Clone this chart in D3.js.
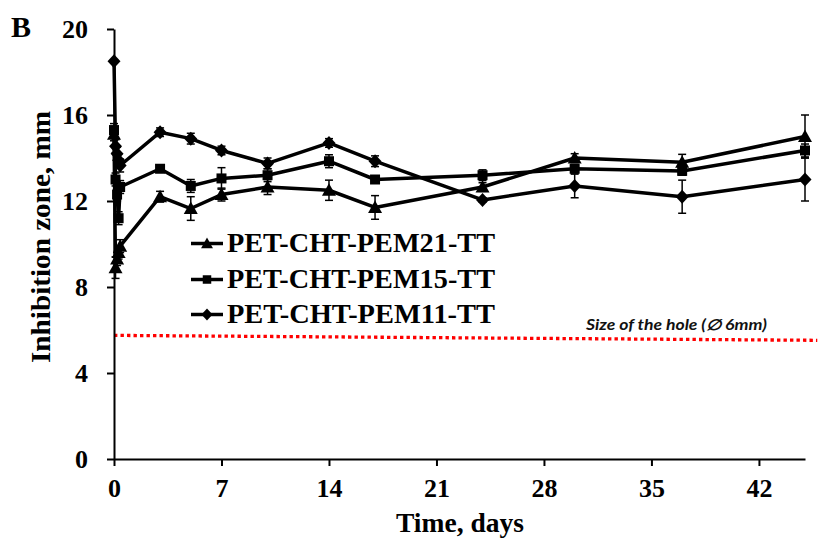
<!DOCTYPE html>
<html>
<head>
<meta charset="utf-8">
<script src="https://cdn.jsdelivr.net/npm/d3@7"></script>
<style>
  html, body { margin: 0; padding: 0; background: #fff; }
  svg { display: block; }
</style>
</head>
<body>
<div id="chart"></div>
<script>
// ---- Data ----
const days = [0, 0.1, 0.2, 0.3, 0.4, 3, 5, 7, 10, 14, 17, 24, 30, 37, 45];
const pem21 = [15.1, 8.9, 9.3, 9.6, 9.9, 12.2, 11.65, 12.3, 12.65, 12.5, 11.7, 12.65, 14.0, 13.8, 15.0];
const pem21Err = [0.3, 0.5, 0.3, 0.3, 0.3, 0.25, 0.55, 0.3, 0.35, 0.47, 0.55, 0.2, 0.2, 0.37, 1.0];
const pem15 = [15.3, 13.0, 12.3, 11.2, 12.65, 13.5, 12.7, 13.05, 13.2, 13.85, 13.0, 13.2, 13.5, 13.4, 14.35];
const pem15Err = [0.3, 0.3, 0.3, 0.3, 0.3, 0.15, 0.3, 0.5, 0.3, 0.3, 0.15, 0.25, 0.2, 0.2, 0.3];
const pem11 = [18.5, 14.55, 14.2, 13.9, 13.65, 15.2, 14.9, 14.35, 13.75, 14.7, 13.85, 12.05, 12.7, 12.2, 13.0];
const pem11Err = [0.0, 0.3, 0.3, 0.3, 0.3, 0.2, 0.25, 0.2, 0.25, 0.2, 0.25, 0.1, 0.55, 0.77, 1.0];
const seriesNames = ["PET-CHT-PEM21-TT", "PET-CHT-PEM15-TT", "PET-CHT-PEM11-TT"];
const seriesMarkers = ["triangle", "square", "diamond"];
const xTicks = [0, 7, 14, 21, 28, 35, 42];
const yTicks = [0, 4, 8, 12, 16, 20];
const holeDays = [0, 45.8];
const holeValues = [5.75, 5.52];
const holeLabel = "Size of the hole (\u2205 6mm)";

const series = [
  { name: seriesNames[0], marker: seriesMarkers[0], values: pem21, err: pem21Err },
  { name: seriesNames[1], marker: seriesMarkers[1], values: pem15, err: pem15Err },
  { name: seriesNames[2], marker: seriesMarkers[2], values: pem11, err: pem11Err }
];

// ---- Layout ----
const W = 818, H = 542;
const svg = d3.select("#chart").append("svg").attr("width", W).attr("height", H);
const x = d3.scaleLinear().domain([0, 45]).range([114, 805]);
const y = d3.scaleLinear().domain([0, 20]).range([459, 29]);
const serif = "'Liberation Serif', 'Times New Roman', serif";

function markerPath(type) {
  if (type === "triangle") return "M0,-7L7,5.5L-7,5.5Z";
  if (type === "square") return "M-5,-5H5V5H-5Z";
  return "M0,-7L6.5,0L0,7L-6.5,0Z";
}

// Hole line
svg.append("path")
  .datum(holeDays.map((d, i) => [d, holeValues[i]]))
  .attr("d", d3.line().x(d => x(d[0])).y(d => y(d[1])))
  .attr("fill", "none").attr("stroke", "#ff0000")
  .attr("stroke-width", 3.3).attr("stroke-dasharray", "3.4,3.1");

svg.append("text")
  .attr("x", 586).attr("y", 330)
  .attr("font-family", "Lato, 'Open Sans', sans-serif")
  .attr("font-style", "italic").attr("font-weight", "bold")
  .attr("font-size", 15)
  .attr("textLength", 181).attr("lengthAdjust", "spacingAndGlyphs")
  .attr("fill", "#111")
  .text(holeLabel);

// Axes
const xAxis = svg.append("g").attr("transform", `translate(0,${y(0)})`)
  .call(d3.axisBottom(x).tickValues(xTicks).tickSize(7).tickSizeOuter(0).tickPadding(13));
const yAxis = svg.append("g").attr("transform", `translate(${x(0)},0)`)
  .call(d3.axisLeft(y).tickValues(yTicks).tickSize(7).tickSizeOuter(0).tickPadding(19));
[xAxis, yAxis].forEach(g => {
  g.selectAll("path.domain").attr("stroke", "#000").attr("stroke-width", 2);
  g.selectAll(".tick line").attr("stroke", "#000").attr("stroke-width", 2);
  g.selectAll(".tick text").attr("font-family", serif).attr("font-weight", "bold")
    .attr("font-size", 26).attr("fill", "#000");
});

// Series
const line = d3.line().x((d, i) => x(days[i])).y(d => y(d));
series.forEach(s => {
  const g = svg.append("g");
  s.values.forEach((v, i) => {
    if (!s.err[i]) return;
    const cx = x(days[i]);
    const top = y(v + s.err[i]), bot = y(v - s.err[i]);
    g.append("line").attr("x1", cx).attr("x2", cx).attr("y1", top).attr("y2", bot)
      .attr("stroke", "#000").attr("stroke-width", 1.5);
    [top, bot].forEach(yy => g.append("line").attr("x1", cx - 4).attr("x2", cx + 4)
      .attr("y1", yy).attr("y2", yy).attr("stroke", "#000").attr("stroke-width", 1.5));
  });
  g.append("path").datum(s.values).attr("d", line)
    .attr("fill", "none").attr("stroke", "#000").attr("stroke-width", 3.5)
    .attr("stroke-linejoin", "round");
  g.selectAll("path.m").data(s.values).enter().append("path").attr("class", "m")
    .attr("transform", (d, i) => `translate(${x(days[i])},${y(d)})`)
    .attr("d", markerPath(s.marker)).attr("fill", "#000");
});

// Legend
const legY = [243.5, 279.5, 314.5];
series.forEach((s, i) => {
  const g = svg.append("g").attr("transform", `translate(191,${legY[i]})`);
  g.append("line").attr("x1", 0).attr("x2", 32).attr("stroke", "#000").attr("stroke-width", 3.5);
  g.append("path").attr("transform", "translate(16,0) scale(0.85)").attr("d", markerPath(s.marker)).attr("fill", "#000");
  g.append("text").attr("x", 36).attr("y", 8.5)
    .attr("font-family", serif).attr("font-weight", "bold").attr("font-size", 28)
    .attr("textLength", 268).attr("lengthAdjust", "spacingAndGlyphs")
    .text(s.name);
});

// Axis titles
svg.append("text").attr("x", 460).attr("y", 532).attr("text-anchor", "middle")
  .attr("font-family", serif).attr("font-weight", "bold").attr("font-size", 27)
  .attr("textLength", 128).attr("lengthAdjust", "spacingAndGlyphs")
  .text("Time, days");
svg.append("text").attr("transform", "translate(50,237) rotate(-90)").attr("text-anchor", "middle")
  .attr("font-family", serif).attr("font-weight", "bold").attr("font-size", 28)
  .attr("textLength", 252).attr("lengthAdjust", "spacingAndGlyphs")
  .text("Inhibition zone, mm");

// Panel label
svg.append("text").attr("x", 11).attr("y", 37)
  .attr("font-family", serif).attr("font-weight", "bold").attr("font-size", 30)
  .text("B");
</script>
</body>
</html>
